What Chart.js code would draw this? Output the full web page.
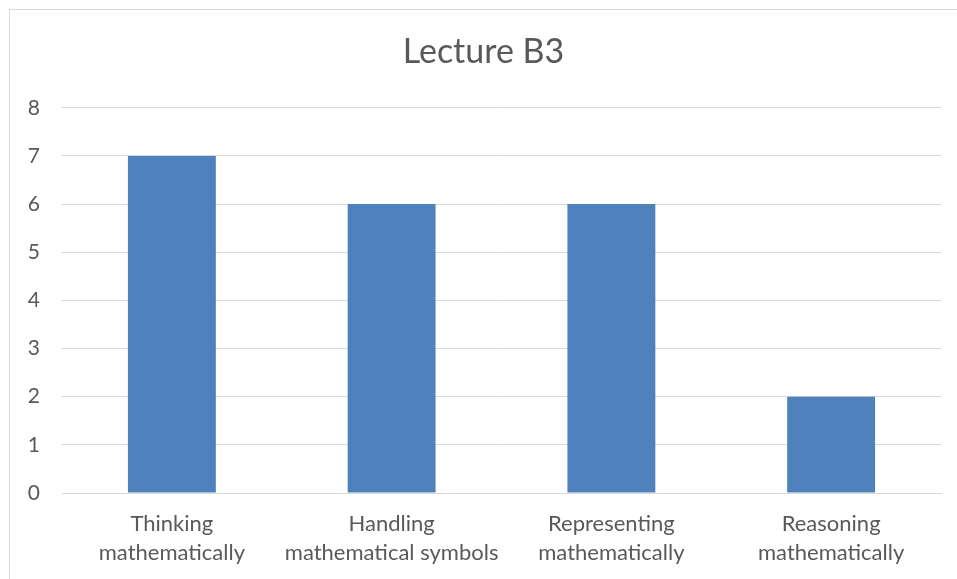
<!DOCTYPE html>
<html><head><meta charset="utf-8">
<script src="https://cdn.jsdelivr.net/npm/chart.js@4"></script>
<style>
html,body{margin:0;padding:0;background:#fff;}
#wrap{position:relative;width:957px;height:579px;overflow:hidden;}
#frame{position:absolute;left:9px;top:9px;width:1000px;height:1000px;border-left:1px solid #d9d9d9;border-top:1px solid #d9d9d9;}
canvas{position:absolute;left:0;top:0;}
</style></head>
<body>
<div id="wrap"><div id="frame"></div><canvas id="c" width="957" height="579"></canvas></div>
<script>
const categories = [["Thinking","mathematically"],["Handling","mathematical symbols"],["Representing","mathematically"],["Reasoning","mathematically"]];
const values = [7, 6, 6, 2];
const chartTitle = "Lecture B3";
const FONT = "Lato, 'Open Sans', sans-serif";
new Chart(document.getElementById('c'), {
  type: 'bar',
  data: { labels: categories, datasets: [{ label: 'Series1', data: values, backgroundColor: '#4F81BD', barPercentage: 0.4, categoryPercentage: 1 }] },
  options: {
    responsive: false, animation: false,
    layout: { padding: { left: 26, right: 16, top: 9, bottom: 0 } },
    plugins: {
      legend: { display: false }, tooltip: { enabled: false },
      title: { display: true, text: chartTitle, color: '#595959', font: { family: FONT, size: 34, weight: 'normal', lineHeight: 1.2 }, padding: { top: 23, bottom: 35 } }
    },
    scales: {
      y: { min: 0, max: 8, ticks: { stepSize: 1, color: '#595959', font: { family: FONT, size: 21 }, padding: 22 },
           grid: { color: '#d9d9d9', lineWidth: 1, drawTicks: false }, border: { display: false },
           afterFit: s => { s.width = 36; } },
      x: { ticks: { color: '#595959', font: { family: FONT, size: 22, lineHeight: 1.32 }, padding: 16, maxRotation: 0, autoSkip: false },
           grid: { display: false, drawTicks: false }, border: { color: '#d9d9d9', width: 1 },
           afterFit: s => { s.height = 86; } }
    }
  }
});
</script>
</body></html>
